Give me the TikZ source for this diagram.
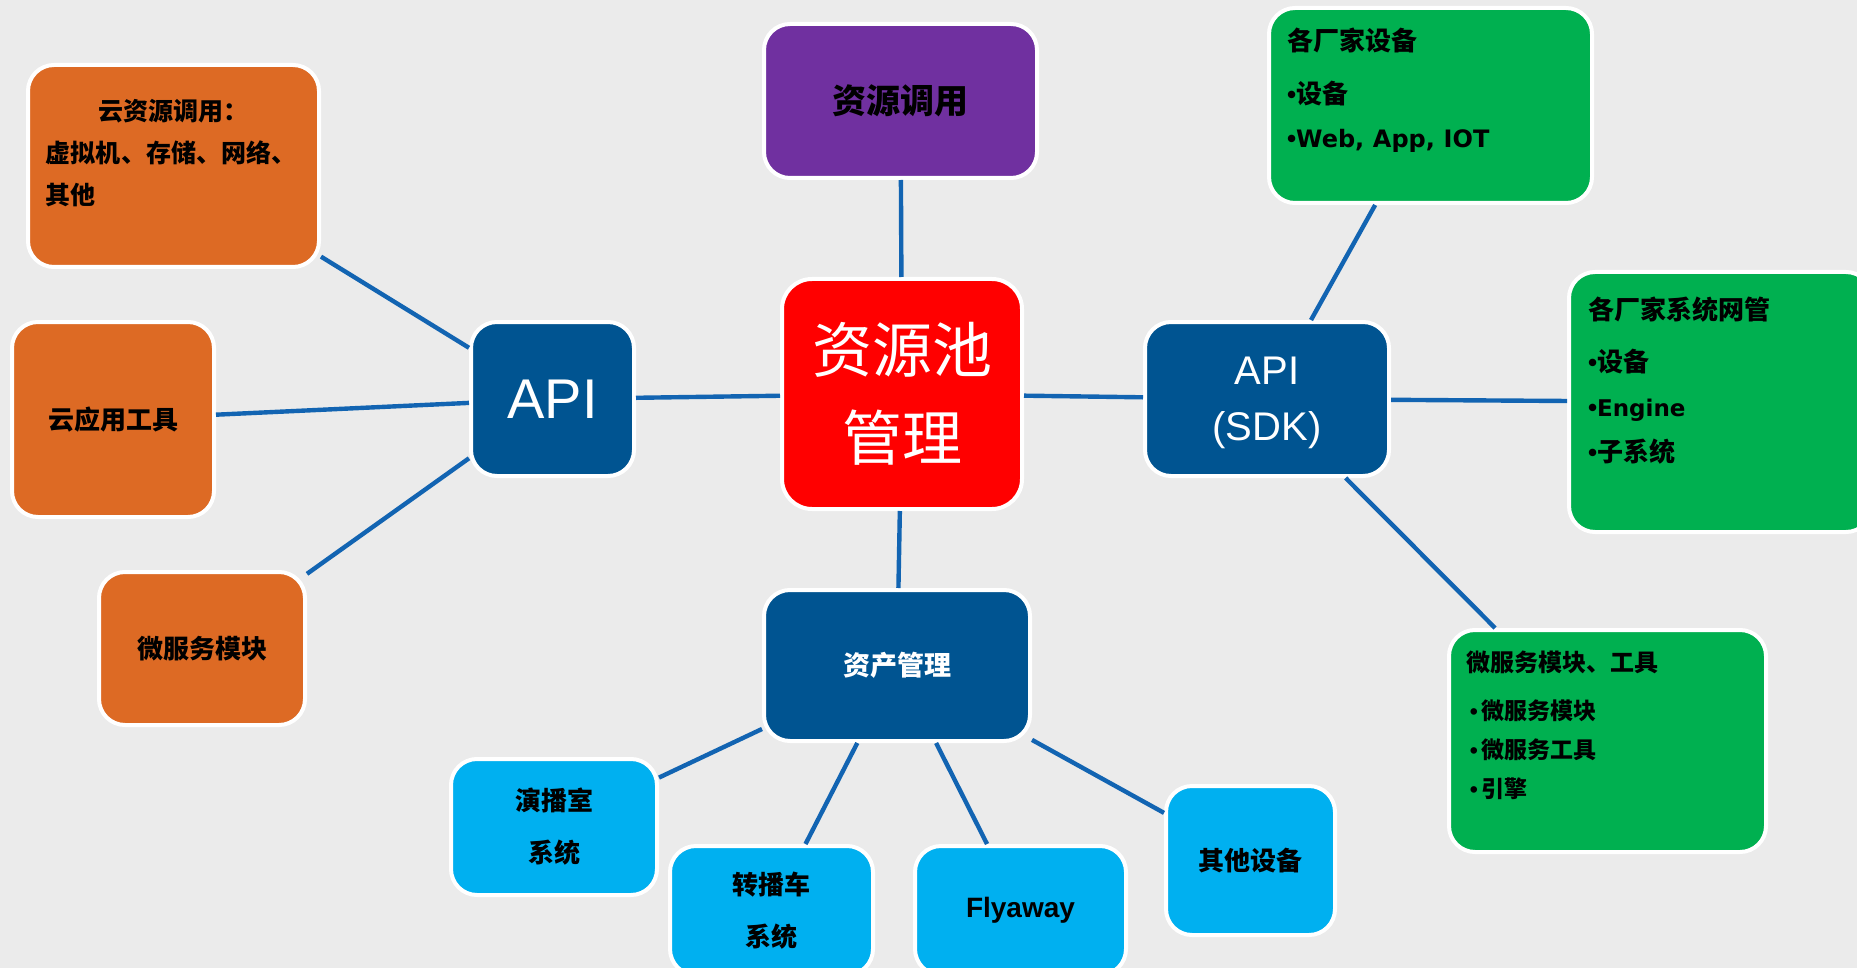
\documentclass[tikz,border=0pt]{standalone}
\usepackage{fontspec}
\usepackage{xcolor}
\usetikzlibrary{positioning,calc}
\setmainfont{Liberation Sans}
\newfontfamily\cjk{Noto Sans CJK SC}
\newfontfamily\dejav{DejaVu Sans}
\newcommand{\dotitem}{{\rmfamily\bfseries •}}
\definecolor{bg}{RGB}{235,235,235}
\definecolor{orangebox}{RGB}{221,106,36}
\definecolor{navybox}{RGB}{0,84,145}
\definecolor{purplebox}{RGB}{112,48,160}
\definecolor{greenbox}{RGB}{0,176,80}
\definecolor{cyanbox}{RGB}{0,176,240}
\definecolor{linkblue}{RGB}{18,100,178}

\begin{document}
\begin{tikzpicture}[x=0.5pt,y=-0.5pt,
    box/.style={draw=white,line width=2pt,rounded corners=13pt},
    cbox/.style={box,align=center,inner sep=0pt},
    tbox/.style={box,anchor=north west,align=left,inner ysep=0pt},
    link/.style={draw=linkblue,line width=2.2pt}]
    \fill[bg] (0,0) rectangle (1857,968);
    \useasboundingbox (0,0) rectangle (1857,968);

    \node[tbox,fill=orangebox,inner xsep=9pt,text width=127.5pt,text height=27.75pt,text depth=73.25pt,
          font=\cjk\bfseries\fontsize{12.5}{21}\selectfont] (cloudres) at (26,63)
          {\makebox[\linewidth][c]{云资源调用：}\\虚拟机、存储、网络、\\其他};
    \node[cbox,fill=orangebox,minimum width=101pt,minimum height=97.5pt,
          font=\cjk\bfseries\fontsize{13}{20}\selectfont] (cloudapp) at (113,419.5) {云应用工具};
    \node[cbox,fill=orangebox,minimum width=103pt,minimum height=76.5pt,
          font=\cjk\bfseries\fontsize{13}{20}\selectfont] (micro) at (202,648.5) {微服务模块};
    \node[cbox,fill=navybox,text=white,minimum width=81.5pt,minimum height=77pt,
          font=\fontsize{28}{34}\selectfont] (api) at (552.5,399) {API};

    \node[cbox,fill=purplebox,minimum width=136.5pt,minimum height=77pt,
          font=\cjk\bfseries\fontsize{17}{22}\selectfont] (rescall) at (900.5,101) {资源调用};
    \node[cbox,fill=red,text=white,minimum width=120pt,minimum height=115pt,rounded corners=15pt,
          font=\cjk\fontsize{30}{44}\selectfont] (pool) at (902,394) {资源池\\管理};
    \node[cbox,fill=navybox,text=white,minimum width=133pt,minimum height=75.5pt,
          font=\cjk\bfseries\fontsize{13.5}{20}\selectfont] (asset) at (897,665.5) {资产管理};

    \node[cbox,fill=navybox,text=white,minimum width=122pt,minimum height=77pt,text depth=0pt,
          font=\fontsize{20}{28}\selectfont] (sdk) at (1267,399) {API\\(SDK)};
    \node[tbox,fill=greenbox,inner xsep=9pt,text width=143.5pt,text height=21.5pt,text depth=76pt,
          font=\cjk\bfseries\fontsize{13}{22}\selectfont] (vendordev) at (1267,6)
          {各厂家设备\\[4.5pt]\dotitem 设备\\\dotitem{\dejav\bfseries\fontsize{12}{22}\selectfont Web, App, IOT}};
    \node[tbox,fill=greenbox,inner xsep=9.5pt,text width=132.5pt,text height=23.5pt,text depth=106.5pt,
          font=\cjk\bfseries\fontsize{13}{22.5}\selectfont] (vendornms) at (1567,270)
          {各厂家系统网管\\[3.5pt]\dotitem 设备\\\dotitem{\dejav\bfseries\fontsize{11.5}{22.5}\selectfont Engine}\\\dotitem 子系统};
    \node[tbox,fill=greenbox,inner xsep=8.5pt,text width=141.5pt,text height=20.5pt,text depth=90.5pt,
          font=\cjk\bfseries\fontsize{12}{19.5}\selectfont] (microtool) at (1447,628)
          {微服务模块、工具\\[4.5pt]{\fontsize{11.5}{19.5}\selectfont\,\dotitem\,微服务模块}\\{\fontsize{11.5}{19.5}\selectfont\,\dotitem\,微服务工具}\\{\fontsize{11.5}{19.5}\selectfont\,\dotitem\,引擎}};

    \node[cbox,fill=cyanbox,minimum width=103pt,minimum height=68pt,
          font=\cjk\bfseries\fontsize{13}{26}\selectfont] (studio) at (554,827) {演播室\\系统};
    \node[cbox,fill=cyanbox,minimum width=101.5pt,minimum height=64.5pt,
          font=\cjk\bfseries\fontsize{13}{26}\selectfont] (obvan) at (771.5,910.5) {转播车\\系统};
    \node[cbox,fill=cyanbox,minimum width=105.5pt,minimum height=64.5pt,
          font=\bfseries\fontsize{14}{20}\selectfont] (flyaway) at (1020.5,910.5) {Flyaway};
    \node[cbox,fill=cyanbox,minimum width=84.5pt,minimum height=74.5pt,
          font=\cjk\bfseries\fontsize{13}{20}\selectfont] (otherdev) at (1250.5,860.5) {其他设备};

    \draw[link] (cloudres) -- (api);
    \draw[link] (cloudapp) -- (api);
    \draw[link] (micro) -- (api);
    \draw[link] (api) -- (pool);
    \draw[link] (rescall) -- (pool);
    \draw[link] (pool) -- (sdk);
    \draw[link] (pool) -- (asset);
    \draw[link] (sdk) -- (vendordev);
    \draw[link] (sdk) -- (vendornms);
    \draw[link] (sdk) -- (microtool);
    \draw[link] (asset) -- (studio);
    \draw[link] (asset) -- (obvan);
    \draw[link] (asset) -- (flyaway);
    \draw[link] (asset) -- (otherdev);
\end{tikzpicture}
\end{document}
